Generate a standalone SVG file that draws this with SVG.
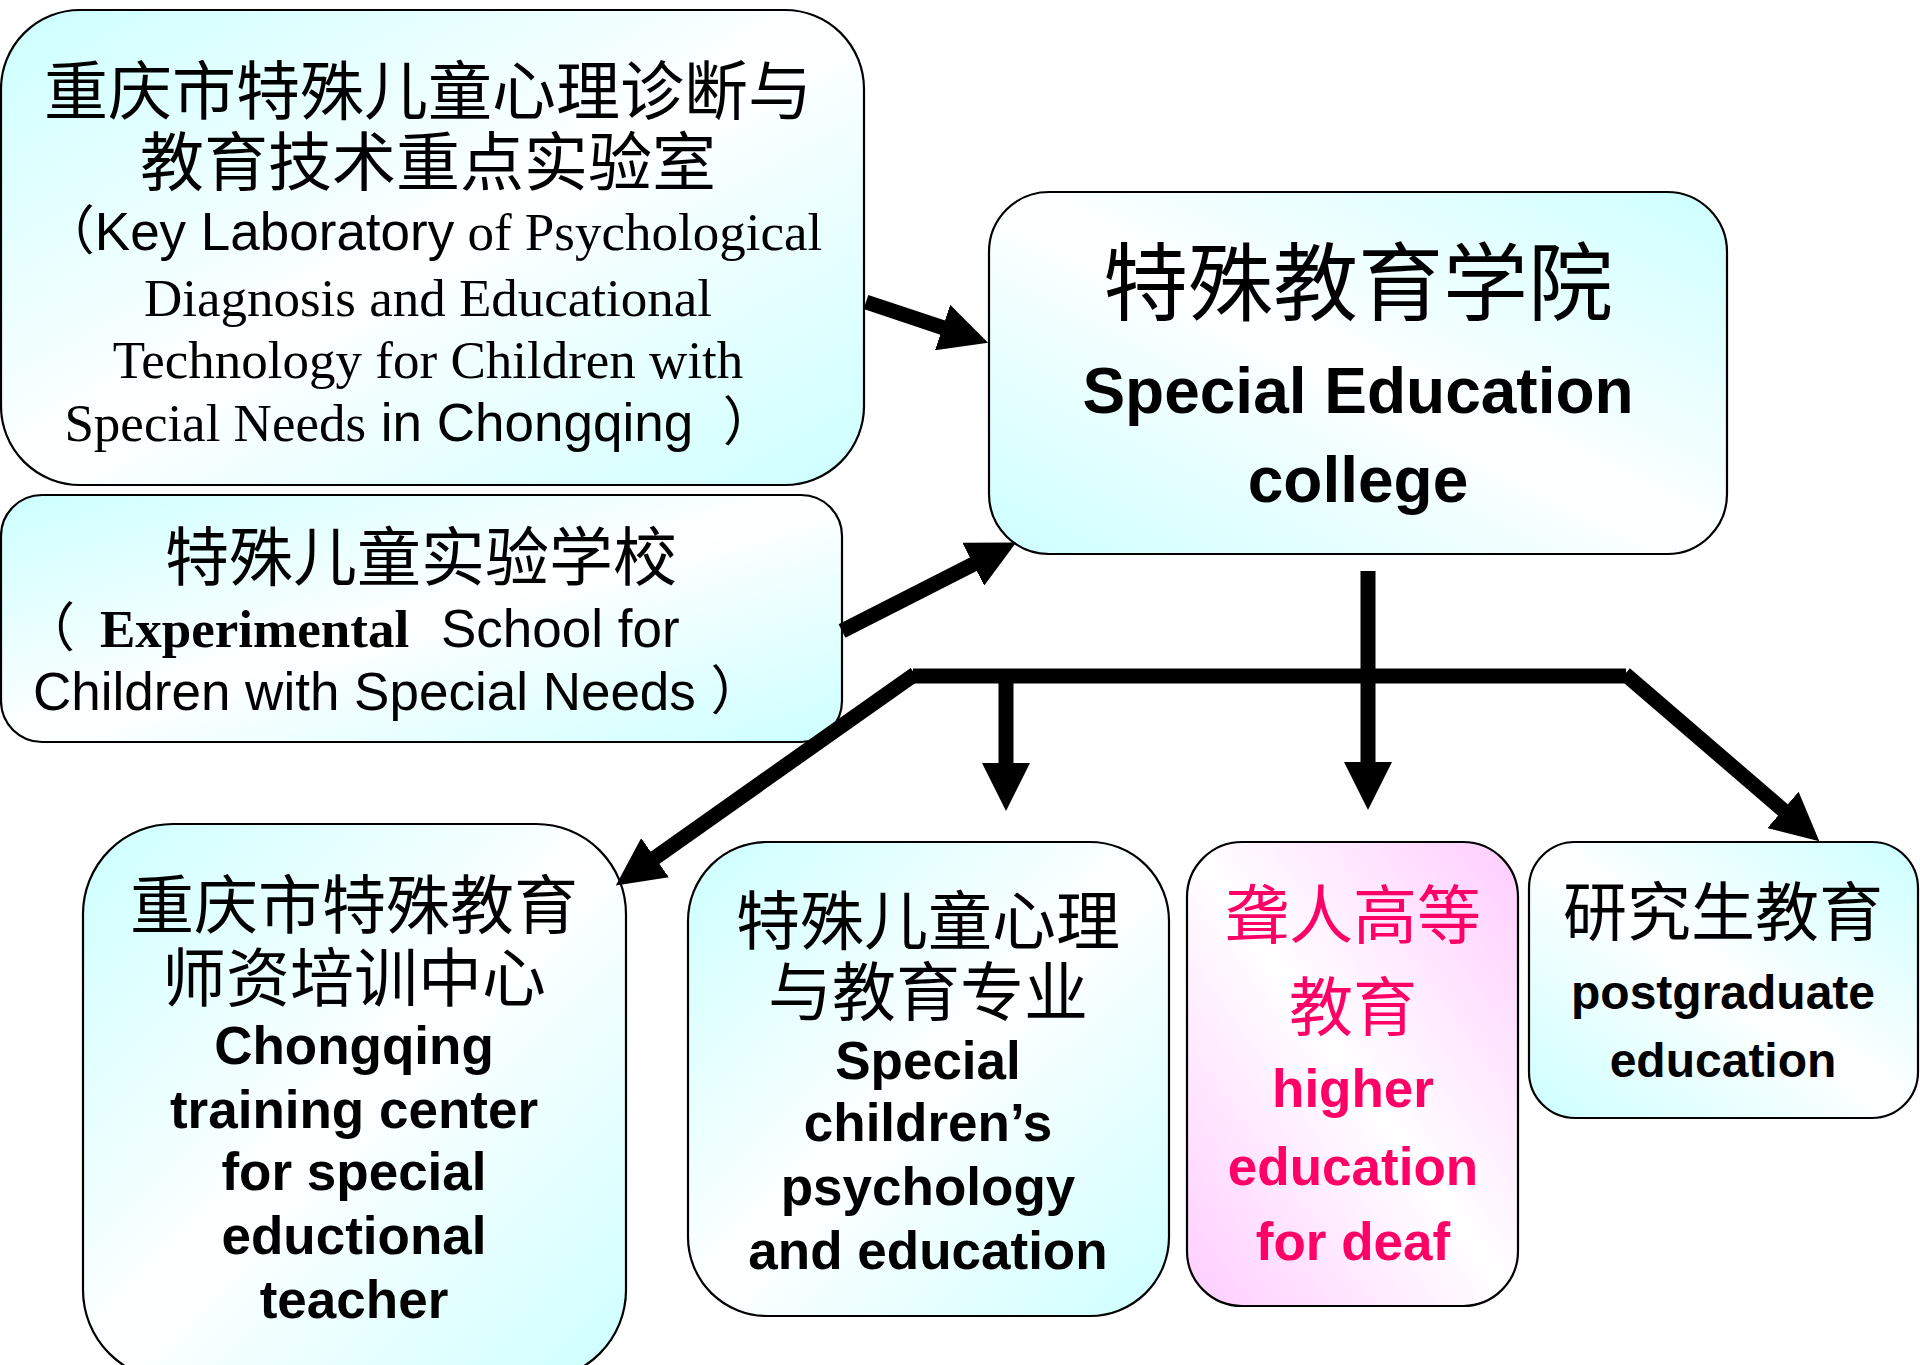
<svg xmlns="http://www.w3.org/2000/svg" width="1920" height="1365" viewBox="0 0 1920 1365">
  <style>
    .box { stroke: #000; stroke-width: 2.2; }
    .cjk { font-family: "Noto Sans CJK SC", "Noto Sans CJK TC", sans-serif; font-size: 64px; fill: #000; }
    .serif { font-family: "Liberation Serif", "Times New Roman", serif; }
    .sans { font-family: "Liberation Sans", Arial, sans-serif; }
    .lab { font-size: 53px; fill: #000; }
    .bold { font-family: "Liberation Sans", Arial, sans-serif; font-weight: bold; font-size: 53px; fill: #000; }
    .pink { fill: #FF0066; }
    .mid { text-anchor: middle; }
    .conn { stroke: #000; stroke-width: 15; fill: none; stroke-linecap: butt; }
  </style>
  <defs>
    <linearGradient id="gTL" x1="0" y1="0" x2="1" y2="1">
      <stop offset="0" stop-color="#CCFFFF"/>
      <stop offset="0.5" stop-color="#FFFFFF"/>
      <stop offset="1" stop-color="#CCFFFF"/>
    </linearGradient>
    <linearGradient id="gTR" x1="1" y1="0" x2="0" y2="1">
      <stop offset="0" stop-color="#CCFFFF"/>
      <stop offset="0.5" stop-color="#FFFFFF"/>
      <stop offset="1" stop-color="#CCFFFF"/>
    </linearGradient>
    <linearGradient id="gPink" x1="1" y1="0" x2="0" y2="1">
      <stop offset="0" stop-color="#FFCCFF"/>
      <stop offset="0.5" stop-color="#FFFFFF"/>
      <stop offset="1" stop-color="#FFCCFF"/>
    </linearGradient>
    <marker id="ah" markerUnits="userSpaceOnUse" viewBox="0 0 48 48" markerWidth="48" markerHeight="48" refX="1" refY="24" orient="auto">
      <path d="M0,0 L48,24 L0,48 z" fill="#000"/>
    </marker>
  </defs>

  <rect width="1920" height="1365" fill="#FFFFFF"/>

  <g id="lab">
    <rect class="box" x="1" y="10" width="863" height="475" rx="79" ry="79" fill="url(#gTL)"/>
    <text class="cjk mid" x="428" y="114">重庆市特殊儿童心理诊断与</text>
    <text class="cjk mid" x="428" y="185">教育技术重点实验室</text>
    <text class="lab mid" x="432" y="250"><tspan class="cjk" style="font-size:53px">（</tspan><tspan class="sans">Key Laboratory</tspan><tspan class="serif"> of Psychological</tspan></text>
    <text class="lab serif mid" x="428" y="316">Diagnosis and Educational</text>
    <text class="lab serif mid" x="428" y="378">Technology for Children with</text>
    <text class="lab mid" x="420" y="441"><tspan class="serif">Special Needs</tspan><tspan class="sans"> in Chongqing&#160;&#160;</tspan><tspan class="cjk" style="font-size:53px">）</tspan></text>
  </g>

  <g id="school">
    <rect class="box" x="1" y="495" width="841" height="247" rx="41" ry="41" fill="url(#gTL)"/>
    <text class="cjk mid" x="421" y="580">特殊儿童实验学校</text>
    <text class="lab" y="647"><tspan class="cjk" x="22" style="font-size:53px">（</tspan><tspan class="serif" x="100" font-weight="bold">Experimental</tspan><tspan class="sans" x="441">School for</tspan></text>
    <text class="lab sans" x="33" y="710">Children with Special Needs&#160;<tspan class="cjk" style="font-size:53px">）</tspan></text>
  </g>

  <g id="college">
    <rect class="box" x="989" y="192" width="738" height="362" rx="60" ry="60" fill="url(#gTR)"/>
    <text class="cjk mid" x="1358" y="314" style="font-size:85px">特殊教育学院</text>
    <text class="bold mid" x="1358" y="413" style="font-size:64px">Special Education</text>
    <text class="bold mid" x="1358" y="502" style="font-size:64px">college</text>
  </g>

  <g id="training">
    <rect class="box" x="83" y="824" width="543" height="556" rx="90" ry="90" fill="url(#gTL)"/>
    <text class="cjk mid" x="354" y="928">重庆市特殊教育</text>
    <text class="cjk mid" x="354" y="1001">师资培训中心</text>
    <text class="bold mid" x="354" y="1064">Chongqing</text>
    <text class="bold mid" x="354" y="1128">training center</text>
    <text class="bold mid" x="354" y="1190">for special</text>
    <text class="bold mid" x="354" y="1254">eductional</text>
    <text class="bold mid" x="354" y="1318">teacher</text>
  </g>

  <g id="psychology">
    <rect class="box" x="688" y="842" width="481" height="474" rx="79" ry="79" fill="url(#gTL)"/>
    <text class="cjk mid" x="928" y="944">特殊儿童心理</text>
    <text class="cjk mid" x="928" y="1015">与教育专业</text>
    <text class="bold mid" x="928" y="1079">Special</text>
    <text class="bold mid" x="928" y="1141">children’s</text>
    <text class="bold mid" x="928" y="1205">psychology</text>
    <text class="bold mid" x="928" y="1269">and education</text>
  </g>

  <g id="deaf">
    <rect class="box" x="1187" y="842" width="331" height="464" rx="55" ry="55" fill="url(#gPink)"/>
    <text class="cjk mid pink" x="1353" y="938">聋人高等</text>
    <text class="cjk mid pink" x="1353" y="1030">教育</text>
    <text class="bold mid pink" x="1353" y="1107">higher</text>
    <text class="bold mid pink" x="1353" y="1185">education</text>
    <text class="bold mid pink" x="1353" y="1260">for deaf</text>
  </g>

  <g id="postgraduate">
    <rect class="box" x="1529" y="842" width="389" height="276" rx="46" ry="46" fill="url(#gTR)"/>
    <text class="cjk mid" x="1723" y="935">研究生教育</text>
    <text class="bold mid" x="1723" y="1009" style="font-size:48px">postgraduate</text>
    <text class="bold mid" x="1723" y="1077" style="font-size:48px">education</text>
  </g>

  <g id="connectors">
    <line class="conn" x1="913" y1="676" x2="1626" y2="676"/>
    <line class="conn" x1="866" y1="302" x2="943.5" y2="327.8" marker-end="url(#ah)"/>
    <line class="conn" x1="842" y1="631" x2="974.2" y2="563.8" marker-end="url(#ah)"/>
    <line class="conn" x1="1368" y1="571" x2="1368" y2="763" marker-end="url(#ah)"/>
    <line class="conn" x1="1006" y1="676" x2="1006" y2="764" marker-end="url(#ah)"/>
    <line class="conn" x1="915" y1="674" x2="654.2" y2="858.3" marker-end="url(#ah)"/>
    <line class="conn" x1="1625" y1="674" x2="1783.7" y2="810.6" marker-end="url(#ah)"/>
  </g>
</svg>
